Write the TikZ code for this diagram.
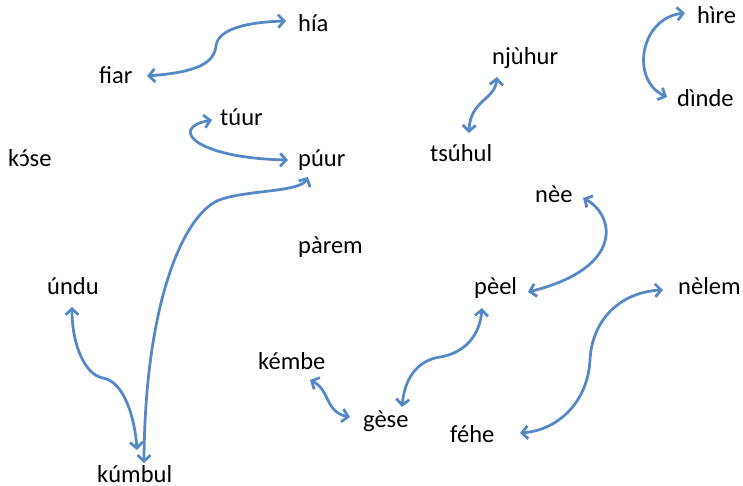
\documentclass[tikz,border=0pt]{standalone}
\usepackage{fontspec}
\setmainfont{Carlito}
\usetikzlibrary{arrows.meta}
\definecolor{linkblue}{RGB}{84,136,198}
\newcommand{\openoacute}{\ooalign{ɔ\cr\hidewidth\kern0.06em ´\hidewidth\cr}}
\begin{document}
\begin{tikzpicture}[x=1bp,y=-1bp,
  word/.style={anchor=base west, inner sep=0pt, font=\fontsize{24.5bp}{29bp}\selectfont},
  barb/.tip={Straight Barb[length=6bp,width=13bp]},
  link/.style={draw=linkblue, line width=2.75bp, line cap=round, barb-barb}]
\useasboundingbox (0,0) rectangle (743,486);
% words
\node[word] (hia)    at (298,32)  {hía};
\node[word] (fiar)   at (99,84)   {fiar};
\node[word] (tuur)   at (220,126) {túur};
\node[word] (kose)   at (8,167)   {k\openoacute se};
\node[word] (puur)   at (298,167) {púur};
\node[word] (hire)   at (697,24)  {hìre};
\node[word] (njuhur) at (492,65)  {njùhur};
\node[word] (dinde)  at (677,107) {dìnde};
\node[word] (tsuhul) at (430,162) {tsúhul};
\node[word] (nee)    at (535,203) {nèe};
\node[word] (parem)  at (298,254) {pàrem};
\node[word] (undu)   at (47,295)  {úndu};
\node[word] (peel)   at (474,295) {pèel};
\node[word] (nelem)  at (678,295) {nèlem};
\node[word] (kembe)  at (258,369) {kémbe};
\node[word] (gese)   at (363,427) {gèse};
\node[word] (fehe)   at (450,442) {féhe};
\node[word] (kumbul) at (97,482)  {kúmbul};
% connectors
\draw[link] ([shift={(48,-8)}]fiar.base west) .. controls (200,72) and (214,62) .. (216,46)
  .. controls (218,28) and (250,22) .. ([shift={(-12,-11)}]hia.base west);
\draw[link] ([shift={(-8,-6)}]tuur.base west) .. controls (168,128) and (195,158) .. ([shift={(-10,-7)}]puur.base west);
\draw[link] ([shift={(10,10)}]puur.base west) .. controls (300,192) and (250,190) .. (222,199)
  .. controls (185,210) and (145,300) .. ([shift={(47,-19)}]kumbul.base west);
\draw[link] ([shift={(25,12)}]undu.base west) .. controls (72,345) and (85,375) .. (103,378)
  .. controls (125,382) and (135,420) .. ([shift={(40,-32)}]kumbul.base west);
\draw[link] ([shift={(52,11)}]kembe.base west) .. controls (330,390) and (325,412) .. ([shift={(-13,-10)}]gese.base west);
\draw[link] ([shift={(39,-20)}]gese.base west) .. controls (405,375) and (420,360) .. (440,357)
  .. controls (465,353) and (480,335) .. ([shift={(8,13)}]peel.base west);
\draw[link] ([shift={(48,-5)}]nee.base west) .. controls (615,215) and (625,268) .. ([shift={(54,-3)}]peel.base west);
\draw[link] ([shift={(-15,-5)}]nelem.base west) .. controls (620,292) and (592,320) .. (590,360)
  .. controls (588,400) and (560,430) .. ([shift={(70,-9)}]fehe.base west);
\draw[link] ([shift={(5,12)}]njuhur.base west) .. controls (495,100) and (470,100) .. ([shift={(39,-29)}]tsuhul.base west);
\draw[link] ([shift={(-12,-11)}]hire.base west) .. controls (640,18) and (630,80) .. ([shift={(-10,-10)}]dinde.base west);
\end{tikzpicture}
\end{document}
